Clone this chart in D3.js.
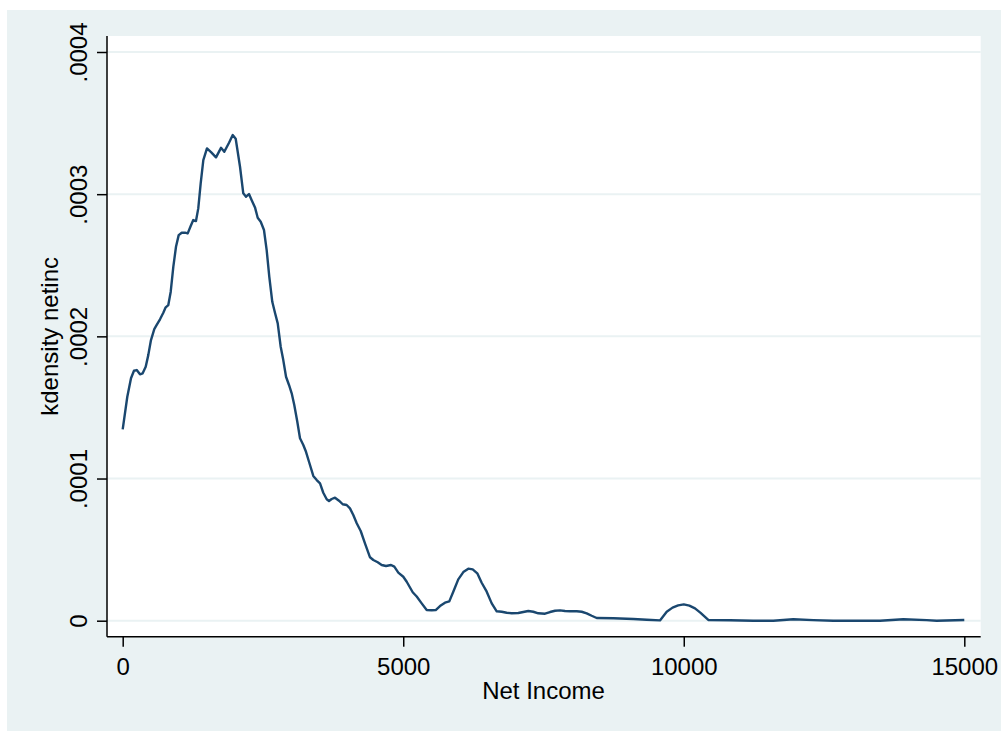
<!DOCTYPE html>
<html>
<head>
<meta charset="utf-8">
<script src="https://cdn.jsdelivr.net/npm/d3@7"></script>
<style>
  html, body { margin: 0; padding: 0; background: #ffffff; }
  svg { display: block; }
  text { font-family: "Liberation Sans", Arial, sans-serif; fill: #000; }
</style>
</head>
<body>
<svg id="chart" width="1001" height="731"></svg>
<script>
// Kernel density estimate of net income (evaluation points and densities)
const netIncome = [
  0, 82, 148, 201, 250, 308, 356, 410, 456, 504, 563, 606, 665, 724, 766, 813,
  856, 902, 950, 998, 1052, 1110, 1159, 1212, 1258, 1306, 1347, 1390, 1437, 1502,
  1579, 1663, 1752, 1811, 1895, 1961, 2014, 2091, 2149, 2198, 2251, 2299, 2358,
  2406, 2460, 2518, 2566, 2613, 2666, 2714, 2763, 2816, 2862, 2911, 2964, 3012,
  3058, 3112, 3160, 3219, 3267, 3326, 3397, 3458, 3517, 3575, 3636, 3677, 3725,
  3784, 3855, 3921, 3992, 4051, 4110, 4171, 4242, 4318, 4408, 4467, 4545, 4616,
  4693, 4782, 4841, 4912, 5001, 5062, 5169, 5240, 5329, 5418, 5507, 5579, 5655,
  5744, 5821, 5892, 5981, 6071, 6160, 6238, 6320, 6398, 6488, 6577, 6666, 6755,
  6844, 6933, 7051, 7140, 7229, 7318, 7407, 7527, 7616, 7705, 7794, 7883, 7972,
  8092, 8181, 8270, 8359, 8448, 8744, 9100, 9339, 9576, 9696, 9800, 9900, 10000,
  10100, 10200, 10300, 10437, 10824, 11239, 11596, 11952, 12309, 12665, 13497,
  13913, 14330, 14508, 15000
];
const density = [
  1.346, 1.575, 1.705, 1.758, 1.763, 1.733, 1.740, 1.786, 1.868, 1.974, 2.051,
  2.080, 2.120, 2.166, 2.204, 2.220, 2.314, 2.489, 2.630, 2.712, 2.729, 2.729,
  2.724, 2.776, 2.818, 2.811, 2.900, 3.076, 3.240, 3.322, 3.294, 3.259, 3.326,
  3.298, 3.362, 3.416, 3.390, 3.193, 3.006, 2.982, 3.001, 2.958, 2.907, 2.834,
  2.806, 2.748, 2.607, 2.419, 2.243, 2.166, 2.091, 1.927, 1.833, 1.716, 1.658,
  1.599, 1.517, 1.399, 1.283, 1.236, 1.188, 1.111, 1.018, 0.989, 0.966, 0.900,
  0.854, 0.842, 0.856, 0.865, 0.844, 0.819, 0.814, 0.790, 0.743, 0.685, 0.631,
  0.544, 0.446, 0.427, 0.411, 0.392, 0.385, 0.392, 0.380, 0.338, 0.309, 0.274,
  0.200, 0.170, 0.122, 0.075, 0.073, 0.075, 0.103, 0.127, 0.136, 0.204, 0.291,
  0.342, 0.366, 0.361, 0.333, 0.267, 0.204, 0.122, 0.066, 0.063, 0.056, 0.052,
  0.054, 0.061, 0.068, 0.063, 0.052, 0.049, 0.061, 0.070, 0.073, 0.068, 0.066,
  0.066, 0.063, 0.052, 0.035, 0.019, 0.017, 0.012, 0.007, 0.002, 0.063, 0.092,
  0.108, 0.115, 0.106, 0.087, 0.055, 0.005, 0.003, 0.000, 0.000, 0.010, 0.004,
  0.000, 0.000, 0.010, 0.004, 0.000, 0.005
].map(v => v * 1e-4);

const xTicks = [0, 5000, 10000, 15000];
const yTicks = [0, 0.0001, 0.0002, 0.0003, 0.0004];
const yTickLabels = ["0", ".0001", ".0002", ".0003", ".0004"];
const xTitle = "Net Income";
const yTitle = "kdensity netinc";

const svg = d3.select("#chart");
const W = 1001, H = 731;

// Outer graph region and inner plot region
const plot = { left: 107, top: 36, right: 980.7, bottom: 636.7 };

svg.append("rect").attr("x", 0).attr("y", 0).attr("width", W).attr("height", H).attr("fill", "#ffffff");
svg.append("rect").attr("x", 7).attr("y", 10).attr("width", W - 7).attr("height", H - 10).attr("fill", "#eaf2f3");
svg.append("rect")
  .attr("x", plot.left).attr("y", plot.top)
  .attr("width", plot.right - plot.left).attr("height", plot.bottom - plot.top)
  .attr("fill", "#ffffff");

const x = d3.scaleLinear().domain([0, 15000]).range([122.7, 964.3]);
const y = d3.scaleLinear().domain([0, 0.0004]).range([620.7, 52]);

// Horizontal grid lines
svg.append("g").selectAll("line").data(yTicks).join("line")
  .attr("x1", plot.left).attr("x2", plot.right)
  .attr("y1", d => y(d)).attr("y2", d => y(d))
  .attr("stroke", "#eaf2f3").attr("stroke-width", 2);

// Density curve
const pts = netIncome.map((v, i) => [v, density[i]]);
svg.append("path")
  .datum(pts)
  .attr("fill", "none")
  .attr("stroke", "#1a476f")
  .attr("stroke-width", 2.4)
  .attr("stroke-linejoin", "round")
  .attr("d", d3.line().x(d => x(d[0])).y(d => y(d[1])));

// Y axis
const yAxis = svg.append("g")
  .attr("transform", `translate(${plot.left},0)`)
  .call(d3.axisLeft(y).tickValues(yTicks).tickSize(10).tickSizeOuter(0)
    .tickFormat((d, i) => yTickLabels[i]));
yAxis.select(".domain").remove();
yAxis.selectAll(".tick line").attr("stroke", "#000").attr("stroke-width", 1.5);
yAxis.selectAll(".tick text")
  .attr("x", 0).attr("dy", 0)
  .attr("text-anchor", "middle")
  .attr("transform", "translate(-20,0) rotate(-90)")
  .style("font-size", "24px")
  .style("font-family", "'Liberation Sans', Arial, sans-serif")
  .attr("fill", "#000");

// X axis
const xAxis = svg.append("g")
  .attr("transform", `translate(0,${plot.bottom})`)
  .call(d3.axisBottom(x).tickValues(xTicks).tickSize(10).tickSizeOuter(0)
    .tickFormat(d3.format("d")));
xAxis.select(".domain").remove();
xAxis.selectAll(".tick line").attr("stroke", "#000").attr("stroke-width", 1.5);
xAxis.selectAll(".tick text")
  .attr("y", 38.7).attr("dy", 0)
  .style("font-size", "24px")
  .style("font-family", "'Liberation Sans', Arial, sans-serif")
  .attr("fill", "#000");

// Axis lines
svg.append("line")
  .attr("x1", plot.left).attr("x2", plot.left)
  .attr("y1", plot.top).attr("y2", plot.bottom)
  .attr("stroke", "#000").attr("stroke-width", 1.5);
svg.append("line")
  .attr("x1", plot.left).attr("x2", plot.right)
  .attr("y1", plot.bottom).attr("y2", plot.bottom)
  .attr("stroke", "#000").attr("stroke-width", 1.5);

// Axis titles
svg.append("text")
  .attr("x", (x.range()[0] + x.range()[1]) / 2).attr("y", 699)
  .attr("text-anchor", "middle")
  .style("font-size", "24px")
  .text(xTitle);
svg.append("text")
  .attr("transform", `translate(57.5,${(plot.top + plot.bottom) / 2}) rotate(-90)`)
  .attr("text-anchor", "middle")
  .style("font-size", "24px")
  .text(yTitle);
</script>
</body>
</html>
